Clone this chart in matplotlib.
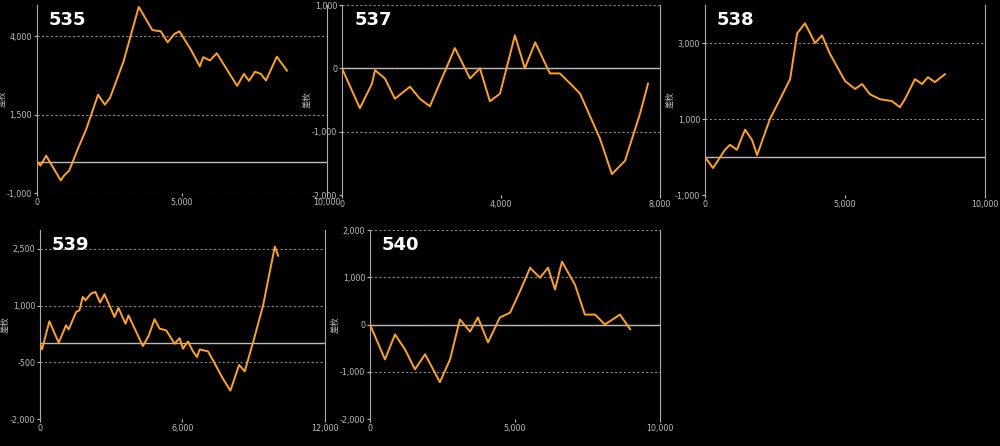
import matplotlib
matplotlib.use("Agg")
import matplotlib.pyplot as plt

plt.rcParams['font.family'] = ['DejaVu Sans', 'Noto Sans CJK JP']

x535 = [0,117,316,819,936,1111,1404,1696,2105,2339,2515,2982,3216,3509,3977,4269,4503,4737,4912,5322,5614,5731,5965,6199,6901,7135,7310,7520,7719,7895,8269,8620]
y535 = [0,-126,190,-600,-440,-284,400,1030,2137,1820,2030,3190,3970,4940,4200,4160,3810,4075,4160,3550,3040,3335,3230,3460,2420,2800,2580,2870,2800,2590,3350,2905]
x537 = [0,450,755,830,1080,1330,1710,1960,2210,2840,3220,3470,3720,3975,4350,4600,4860,5230,5480,5740,5990,6490,6790,7120,7500,7700]
y537 = [0,-630,-240,-30,-160,-480,-290,-480,-600,320,-160,0,-520,-400,520,0,410,-80,-80,-240,-400,-1110,-1670,-1460,-710,-240]
x538 = [0,285,714,890,1140,1430,1680,1860,2320,2680,3040,3290,3570,3930,4180,4460,5000,5360,5610,5890,6250,6680,6960,7140,7500,7750,7960,8210,8570]
y538 = [0,-290,190,320,190,720,450,50,1000,1520,2050,3250,3520,3000,3200,2720,2000,1790,1920,1650,1520,1470,1310,1520,2050,1920,2100,1970,2180]
x539 = [0,84,394,788,1097,1210,1519,1660,1800,1912,2152,2334,2531,2714,3136,3305,3600,3727,4332,4571,4824,5035,5316,5668,5879,6020,6231,6442,6611,6723,7075,7286,7708,8017,8383,8622,8974,9396,9677,9888,10028]
y539 = [0,-160,585,20,480,370,830,875,1230,1140,1320,1360,1080,1300,700,940,520,740,-70,195,640,390,345,-10,140,-140,50,-210,-360,-160,-210,-450,-940,-1250,-570,-740,35,1010,1900,2560,2320]
x540 = [0,517,862,1210,1550,1900,2410,2760,3100,3450,3720,4070,4480,4830,5170,5520,5860,6140,6380,6620,7070,7410,7760,8100,8620,8970]
y540 = [0,-740,-210,-530,-950,-630,-1220,-740,105,-150,150,-380,150,250,700,1200,990,1200,740,1330,840,210,210,0,210,-100]

panels = [
    ("535", x535, y535, (37, 5, 327, 193), (0, 10000), [0, 5000, 10000], (-1000, 5000), [-1000, 1500, 4000]),
    ("537", x537, y537, (342, 5, 660, 195), (0, 8000), [0, 4000, 8000], (-2000, 1000), [-2000, -1000, 0, 1000]),
    ("538", x538, y538, (705, 5, 985, 195), (0, 10000), [0, 5000, 10000], (-1000, 4000), [-1000, 1000, 3000]),
    ("539", x539, y539, (40, 230, 325, 419), (0, 12000), [0, 6000, 12000], (-2000, 3000), [-2000, -500, 1000, 2500]),
    ("540", x540, y540, (370, 230, 660, 419), (0, 10000), [0, 5000, 10000], (-2000, 2000), [-2000, -1000, 0, 1000, 2000]),
]

W, H = 1000, 446
fig = plt.figure(figsize=(10, 4.46), dpi=100, facecolor='black')
for name, xs, ys, (l, t, r, b), xl, xt, yl, yt in panels:
    ax = fig.add_axes([l / W, 1 - b / H, (r - l) / W, (b - t) / H], facecolor='black')
    ax.plot(xs, ys, color='#FFA31A', lw=1.4, zorder=3)
    ax.axhline(0, color='#BBBBBB', lw=1, zorder=2)
    ax.set_xlim(*xl); ax.set_ylim(*yl)
    ax.set_xticks(xt); ax.set_yticks(yt)
    ax.set_xticklabels([f"{v:,}" for v in xt])
    ax.set_yticklabels([f"{v:,}" for v in yt])
    ax.grid(axis='y', color='#888888', ls=(0, (2, 2)), lw=0.8)
    for s in ['top', 'bottom']:
        ax.spines[s].set_visible(False)
    for s in ['left', 'right']:
        ax.spines[s].set_color('#AAAAAA')
    ax.tick_params(colors='#BBBBBB', labelsize=5.8, length=2, width=0.8, pad=1.5)
    ax.set_ylabel("差枚", color='#BBBBBB', fontsize=6, family=['Noto Sans CJK JP'], labelpad=0)
    ax.text(0.04, 0.97, name, transform=ax.transAxes, color='white', fontsize=13,
            fontweight='bold', va='top', ha='left')
fig.savefig("out.png", dpi=100, facecolor='black')
